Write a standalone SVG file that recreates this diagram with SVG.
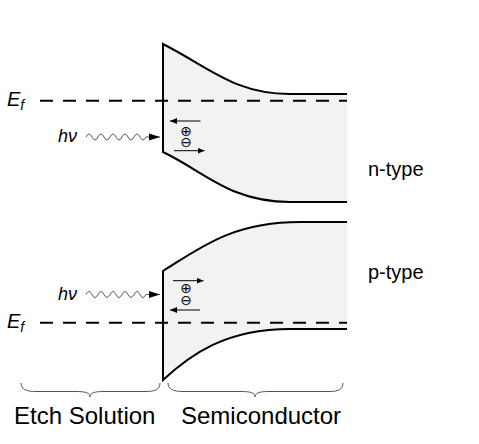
<svg xmlns="http://www.w3.org/2000/svg" width="479" height="444" viewBox="0 0 479 444">
<style>
.band{fill:#f2f2f2;stroke:none}
.edge{fill:none;stroke:#000;stroke-width:2;stroke-linejoin:miter}
.ef{fill:none;stroke:#000;stroke-width:2;stroke-dasharray:13 10}
.wave{fill:none;stroke:#555;stroke-width:1}
.carrier{fill:none;stroke:#000;stroke-width:1}
.brace{fill:none;stroke:#555;stroke-width:1}
.lbl{font-family:"Liberation Sans",Arial,sans-serif;fill:#000}
.it{font-style:italic}
.sym{font-family:"DejaVu Sans",sans-serif;font-size:14px;fill:#000;text-anchor:middle}
</style>
<defs>
<marker id="ah" markerUnits="userSpaceOnUse" markerWidth="12" markerHeight="8" refX="11" refY="4" orient="auto">
<path d="M0,0.5 L11,4 L0,7.5 Z" fill="#000"/>
</marker>
<marker id="sh" markerUnits="userSpaceOnUse" markerWidth="8" markerHeight="6" refX="7" refY="3" orient="auto">
<path d="M0,0 L7,3 L0,6 Z" fill="#000"/>
</marker>
</defs>
<g id="n-band">
<path class="band" d="M163,44 C210,68 235,94 290,94 L347,94 L347,202 L290,202 C230,202 205,172 163,152 Z"/>
<path class="edge" d="M347,94 L290,94 C235,94 210,68 163,44 L163,152 C205,172 230,202 290,202 L347,202"/>
</g>
<g id="p-band">
<path class="band" d="M163,271 C200,248 232,222 300,222 L347,222 L347,329 L290,329 C225,329 190,355 163,380 Z"/>
<path class="edge" d="M347,222 L300,222 C232,222 200,248 163,271 L163,380 C190,355 225,329 290,329 L347,329"/>
</g>
<g id="fermi-levels">
<path class="ef" d="M40,100.7 L347,100.7"/>
<path class="ef" d="M40,322.7 L347,322.7"/>
<text class="lbl it" x="7" y="106" font-size="20">E<tspan font-size="14" dy="4">f</tspan></text>
<text class="lbl it" x="7" y="328" font-size="20">E<tspan font-size="14" dy="4">f</tspan></text>
</g>
<g id="connectors">
<path class="wave" marker-end="url(#ah)" d="M86,137 q3,-6 6,0 t6,0 t6,0 t6,0 t6,0 t6,0 t6,0 t6,0 t6,0 t6,0 L160,137"/>
<path class="wave" marker-end="url(#ah)" d="M86,294.5 q3,-6 6,0 t6,0 t6,0 t6,0 t6,0 t6,0 t6,0 t6,0 t6,0 t6,0 L160,294.5"/>
<path class="carrier" marker-end="url(#sh)" d="M200.5,121 L170,121"/>
<path class="carrier" marker-end="url(#sh)" d="M174,150.7 L204.5,150.7"/>
<path class="carrier" marker-end="url(#sh)" d="M173,280.7 L203.5,280.7"/>
<path class="carrier" marker-end="url(#sh)" d="M200,310 L170,310"/>
</g>
<g id="photon-labels">
<text class="lbl it" x="58" y="141.7" font-size="18">hν</text>
<text class="lbl it" x="58" y="300" font-size="18">hν</text>
</g>
<g id="carriers">
<text class="sym" x="186" y="135.5">⊕<tspan x="186" dy="11">⊖</tspan></text>
<text class="sym" x="186" y="293.3">⊕<tspan x="186" dy="11.7">⊖</tspan></text>
</g>
<g id="type-labels">
<text class="lbl" x="368" y="176" font-size="20">n-type</text>
<text class="lbl" x="368" y="279" font-size="20">p-type</text>
</g>
<g id="braces">
<path class="brace" d="M21,383 C21,389 26,391.5 36,391.5 L76,391.5 C86,391.5 90,393 90,397 C90,393 94,391.5 104,391.5 L146,391.5 C156,391.5 160,389 160,383"/>
<path class="brace" d="M168,383 C168,389 173,391.5 183,391.5 L241,391.5 C251,391.5 255,393 255,397 C255,393 259,391.5 269,391.5 L329,391.5 C339,391.5 343,389 343,383"/>
<text class="lbl" x="14" y="424" font-size="24">Etch Solution</text>
<text class="lbl" x="181" y="424" font-size="24">Semiconductor</text>
</g>
</svg>
